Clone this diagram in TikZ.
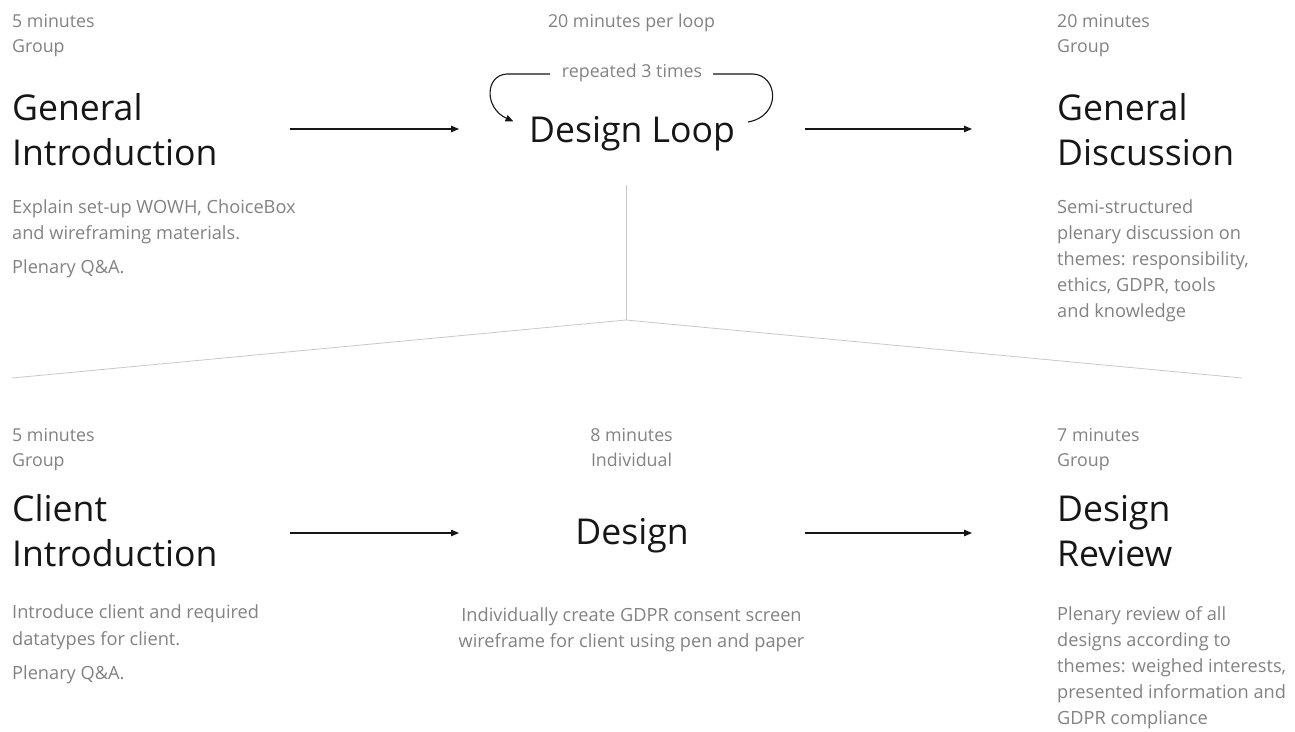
\documentclass[tikz,border=0pt]{standalone}
\usepackage{fontspec}
\setmainfont{Open Sans}
\usetikzlibrary{arrows.meta}
\definecolor{metagray}{HTML}{828282}
\definecolor{titleblack}{HTML}{161616}
\definecolor{rulegray}{HTML}{C8C8C8}
\tikzset{
  meta/.style={font=\fontsize{17.8}{21}\selectfont, text=metagray, inner sep=0pt, anchor=base west},
  ttl/.style={font=\fontsize{35.6}{42}\selectfont, text=titleblack, inner sep=0pt, anchor=base west},
  desc/.style={font=\fontsize{18.2}{22}\selectfont, text=metagray, inner sep=0pt, anchor=base west},
  mid/.style={anchor=base},
  flow/.style={line width=1.1pt, draw=titleblack, -{Triangle[length=8pt,width=6.5pt]}},
  loopline/.style={line width=1.1pt, draw=titleblack},
  divider/.style={line width=0.8pt, draw=rulegray}
}
\begin{document}
\begin{tikzpicture}[x=1pt,y=-1pt]
\useasboundingbox (0,0) rectangle (1295,731);

% ---- top row: General Introduction ----
\node[meta] (gi-time) at (12,27) {5 minutes};
\node[meta] (gi-mode) at (12,52) {Group};
\node[ttl]  (gi-t1) at (12,120) {General};
\node[ttl]  (gi-t2) at (12,165) {Introduction};
\node[desc] (gi-d1) at (12,213) {Explain set-up WOWH, ChoiceBox};
\node[desc] (gi-d2) at (12,239) {and wireframing materials.};
\node[desc] (gi-d3) at (12,273) {Plenary Q\&A.};

% ---- top row: Design Loop ----
\node[meta,mid] (dl-time) at (631.5,27) {20 minutes per loop};
\node[meta,mid] (dl-rep) at (632,77) {repeated 3 times};
\node[ttl,mid]  (dl-t) at (632,142) {Design Loop};

% ---- top row: General Discussion ----
\node[meta] (gd-time) at (1057,27) {20 minutes};
\node[meta] (gd-mode) at (1057,52) {Group};
\node[ttl]  (gd-t1) at (1057,120) {General};
\node[ttl]  (gd-t2) at (1057,165) {Discussion};
\node[desc] (gd-d1) at (1057,213) {Semi-structured};
\node[desc] (gd-d2) at (1057,239) {plenary discussion on};
\node[desc] (gd-d3) at (1057,265) {themes: responsibility,};
\node[desc] (gd-d4) at (1057,291) {ethics, GDPR, tools};
\node[desc] (gd-d5) at (1057,317) {and knowledge};

% ---- bottom row: Client Introduction ----
\node[meta] (ci-time) at (12,441.7) {5 minutes};
\node[meta] (ci-mode) at (12,466.7) {Group};
\node[ttl]  (ci-t1) at (12,521.7) {Client};
\node[ttl]  (ci-t2) at (12,566.7) {Introduction};
\node[desc] (ci-d1) at (12,618.5) {Introduce client and required};
\node[desc] (ci-d2) at (12,645) {datatypes for client.};
\node[desc] (ci-d3) at (12,679) {Plenary Q\&A.};

% ---- bottom row: Design ----
\node[meta,mid] (de-time) at (631.5,441.7) {8 minutes};
\node[meta,mid] (de-mode) at (631.5,466.7) {Individual};
\node[ttl,mid]  (de-t) at (632,544) {Design};
\node[desc,mid] (de-d1) at (631.5,621) {Individually create GDPR consent screen};
\node[desc,mid] (de-d2) at (631.5,647) {wireframe for client using pen and paper};

% ---- bottom row: Design Review ----
\node[meta] (dr-time) at (1057,441.7) {7 minutes};
\node[meta] (dr-mode) at (1057,466.7) {Group};
\node[ttl]  (dr-t1) at (1057,521.7) {Design};
\node[ttl]  (dr-t2) at (1057,566.7) {Review};
\node[desc] (dr-d1) at (1057,620) {Plenary review of all};
\node[desc] (dr-d2) at (1057,646) {designs according to};
\node[desc] (dr-d3) at (1057,672) {themes: weighed interests,};
\node[desc] (dr-d4) at (1057,698) {presented information and};
\node[desc] (dr-d5) at (1057,724) {GDPR compliance};

% ---- arrow end points ----
\coordinate (a1s) at (290,129);  \coordinate (a1e) at (459,129);
\coordinate (a2s) at (805,129);  \coordinate (a2e) at (972,129);
\coordinate (b1s) at (290,533);  \coordinate (b1e) at (459,533);
\coordinate (b2s) at (805,533);  \coordinate (b2e) at (972,533);

\draw[flow] (a1s) -- (a1e);
\draw[flow] (a2s) -- (a2e);
\draw[flow] (b1s) -- (b1e);
\draw[flow] (b2s) -- (b2e);

% ---- repetition loop around "Design Loop" ----
\coordinate (lp-l0) at (550,74);
\coordinate (lp-l1) at (507,74);
\coordinate (lp-l2) at (513.5,121.5);
\coordinate (lp-r0) at (713,74);
\coordinate (lp-r1) at (753,74);
\coordinate (lp-r2) at (748,122);
\draw[loopline, -{Triangle[length=8pt,width=6.5pt]}]
  (lp-l0) -- (lp-l1) .. controls (485,75) and (484,108) .. (lp-l2);
\draw[loopline]
  (lp-r0) -- (lp-r1) .. controls (778,75) and (782,116) .. (lp-r2);

% ---- divider between the loop and its steps ----
\coordinate (dv-top) at (626,185);
\coordinate (dv-apex) at (626,320);
\coordinate (dv-left) at (12,378);
\coordinate (dv-right) at (1242,378);
\draw[divider] (dv-top) -- (dv-apex);
\draw[divider] (dv-left) -- (dv-apex) -- (dv-right);
\end{tikzpicture}
\end{document}
